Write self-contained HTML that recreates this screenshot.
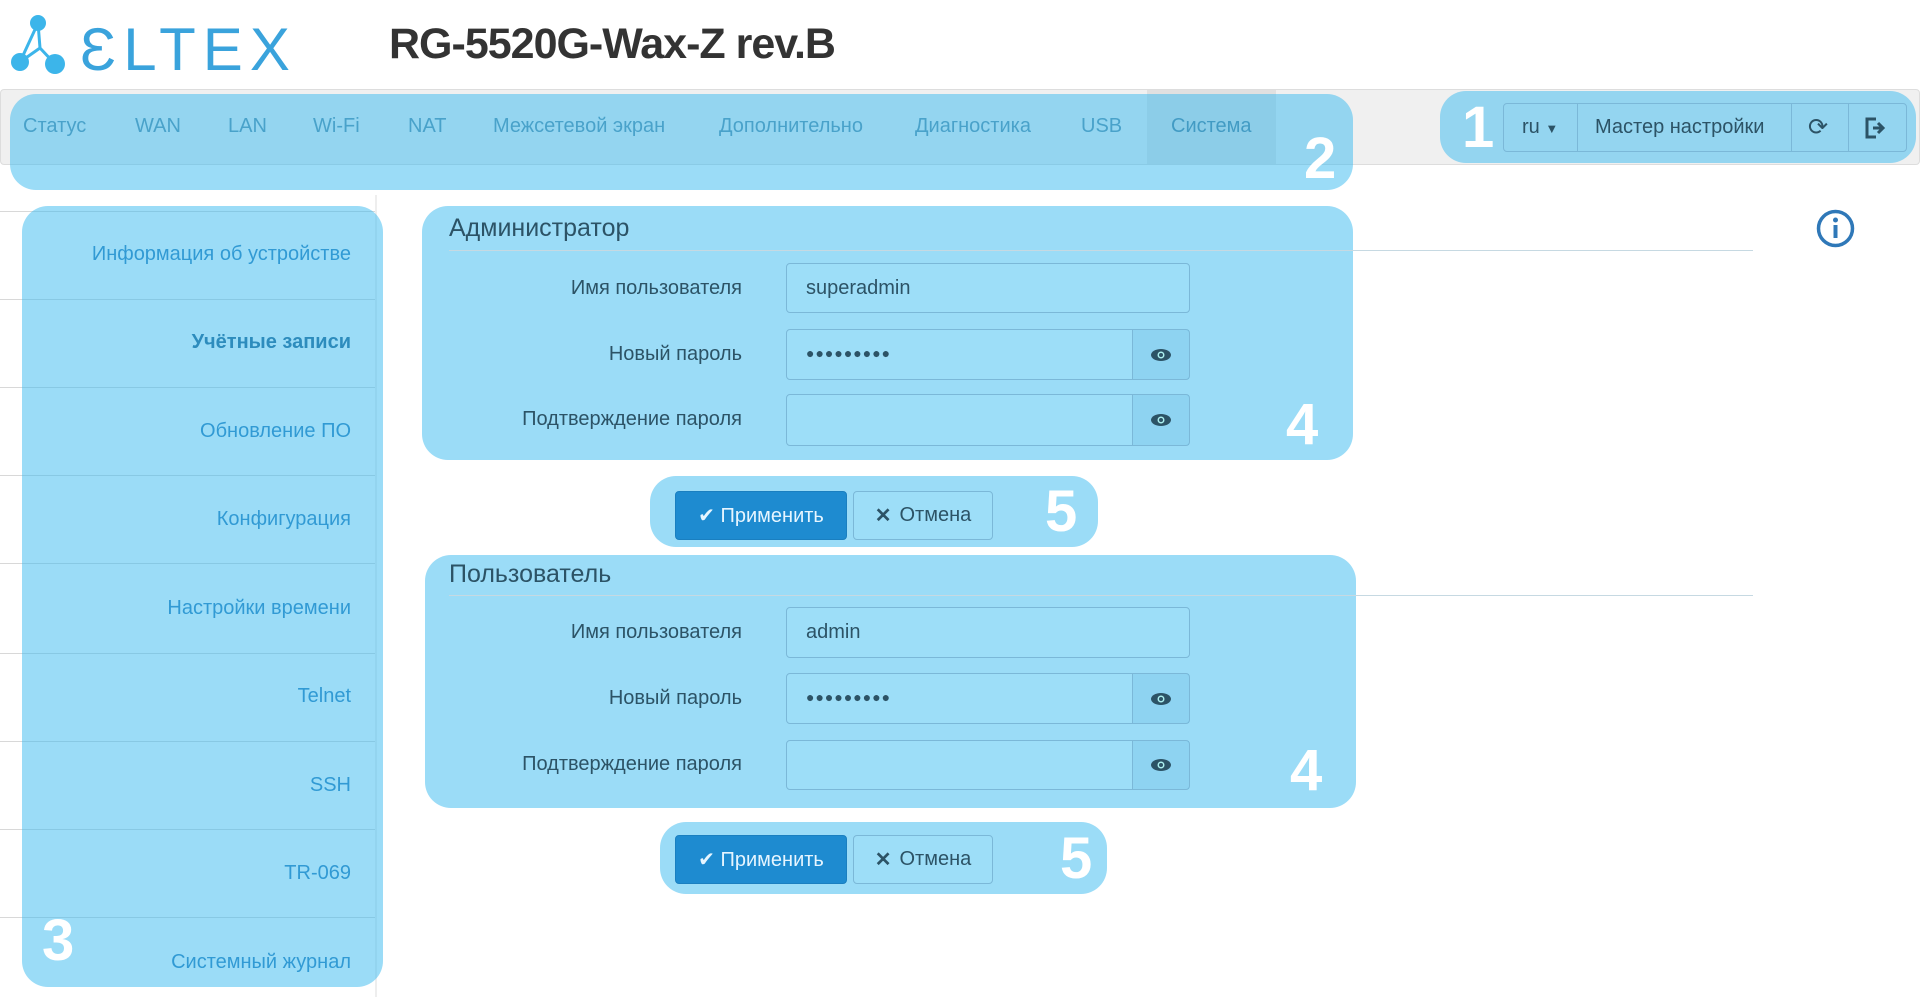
<!DOCTYPE html>
<html><head><meta charset="utf-8"><style>
*{margin:0;padding:0;box-sizing:border-box}
body{width:1920px;height:997px;position:relative;background:#fff;font-family:"Liberation Sans",sans-serif;overflow:hidden}
.a{position:absolute}
.hl{position:absolute;background:rgba(55,185,239,0.5);border-radius:26px}
.num{position:absolute;color:#fff;font-weight:bold;font-size:58px;line-height:1;font-family:"Liberation Sans",sans-serif}
.nav{position:absolute;top:115px;font-size:20px;color:#5a8aa5;white-space:nowrap}
.side{position:absolute;right:1569px;font-size:20px;color:#2a7ab8;white-space:nowrap;text-align:right}
.sep{position:absolute;left:0;width:375px;height:1px;background:#d8d8d8}
.lbl{position:absolute;right:1178px;font-size:20px;color:#2c5366;white-space:nowrap}
.inp{position:absolute;left:786px;width:404px;border:1px solid #7bb8d8;border-radius:4px;background:rgba(160,225,250,0.4);font-size:20px;color:#2c5366;padding-left:19px}
.eye{position:absolute;right:0;top:0;bottom:0;width:57px;border-left:1px solid #7bb8d8;background:rgba(100,180,220,0.25);display:flex;align-items:center;justify-content:center}
.btn{position:absolute;border-radius:4px;font-size:20px;display:flex;align-items:center;justify-content:center;white-space:nowrap}
.ap{background:#1e8bd0;color:#e6f5ff;border:1px solid #1a7fc0}
.cn{background:rgba(160,225,250,0.4);border:1px solid #7bb8d8;color:#2c5366}
.h{position:absolute;font-size:25px;color:#2c5366}
.ln{position:absolute;height:1px;background:#c6d9e2}
</style></head><body>

<!-- logo -->
<svg class="a" style="left:10px;top:14px" width="300" height="62" viewBox="0 0 300 62">
<circle cx="28" cy="9" r="8" fill="#3cb5ea"/><circle cx="10" cy="48" r="9" fill="#3cb5ea"/><circle cx="45" cy="50" r="10" fill="#3cb5ea"/>
<path d="M28 9 L10 48 M28 9 L30 34 L45 50 M10 48 L30 34" stroke="#3cb5ea" stroke-width="3" fill="none"/>
<text x="70" y="56" font-family="Liberation Sans" font-size="60" fill="#3aa3dc" letter-spacing="7">ƐLTEX</text>
</svg>
<div class="a" style="left:389px;top:20px;font-size:43px;font-weight:bold;color:#333;letter-spacing:-1px">RG-5520G-Wax-Z rev.B</div>

<!-- navbar -->
<div class="a" style="left:0;top:89px;width:1920px;height:76px;background:#f0f0f0;border:1px solid #ddd;border-radius:4px"></div>
<div class="a" style="left:1147px;top:90px;width:129px;height:74px;background:#e0e0e0"></div>
<div class="nav" style="left:23px">Статус</div>
<div class="nav" style="left:135px">WAN</div>
<div class="nav" style="left:228px">LAN</div>
<div class="nav" style="left:313px">Wi-Fi</div>
<div class="nav" style="left:408px">NAT</div>
<div class="nav" style="left:493px">Межсетевой экран</div>
<div class="nav" style="left:719px">Дополнительно</div>
<div class="nav" style="left:915px">Диагностика</div>
<div class="nav" style="left:1081px">USB</div>
<div class="nav" style="left:1171px;color:#4d7d98">Система</div>
<div class="hl" style="left:10px;top:94px;width:1343px;height:96px"></div>
<div class="num" style="left:1304px;top:130px">2</div>

<!-- right buttons -->
<div class="hl" style="left:1440px;top:91px;width:476px;height:72px"></div>
<div class="num" style="left:1462px;top:99px">1</div>
<div class="a" style="left:1503px;top:103px;width:404px;height:49px;border:1px solid #7bb8d8;border-radius:4px"></div>
<div class="a" style="left:1577px;top:103px;width:1px;height:49px;background:#7bb8d8"></div>
<div class="a" style="left:1791px;top:103px;width:1px;height:49px;background:#7bb8d8"></div>
<div class="a" style="left:1848px;top:103px;width:1px;height:49px;background:#7bb8d8"></div>
<div class="a" style="left:1522px;top:116px;font-size:20px;color:#2c5366">ru <span style="font-size:13px">▼</span></div>
<div class="a" style="left:1595px;top:116px;font-size:20px;color:#2c5366">Мастер настройки</div>
<div class="a" style="left:1808px;top:113px;font-size:24px;color:#2c5366">⟳</div>
<svg class="a" style="left:1864px;top:117px" width="24" height="22"><path d="M12 2H3v18h9" stroke="#2c5366" stroke-width="3" fill="none"/><path d="M9 11h8M14 6l5 5-5 5" stroke="#2c5366" stroke-width="3" fill="none"/></svg>

<!-- info icon -->
<svg class="a" style="left:1815px;top:208px" width="41" height="41"><circle cx="20.5" cy="20.5" r="17" stroke="#2f78b8" stroke-width="3.5" fill="none"/><circle cx="20.5" cy="12" r="2.5" fill="#2f78b8"/><rect x="18.5" y="17" width="4" height="13" fill="#2f78b8"/></svg>

<!-- sidebar -->
<div class="a" style="left:375px;top:195px;width:2px;height:802px;background:#eee"></div>
<div class="sep" style="top:211px"></div>
<div class="sep" style="top:299px"></div><div class="sep" style="top:387px"></div><div class="sep" style="top:475px"></div>
<div class="sep" style="top:563px"></div><div class="sep" style="top:653px"></div><div class="sep" style="top:741px"></div>
<div class="sep" style="top:829px"></div><div class="sep" style="top:917px"></div>
<div class="side" style="top:243px">Информация об устройстве</div>
<div class="side" style="top:331px;font-weight:bold;color:#235e8a">Учётные записи</div>
<div class="side" style="top:420px">Обновление ПО</div>
<div class="side" style="top:508px">Конфигурация</div>
<div class="side" style="top:597px">Настройки времени</div>
<div class="side" style="top:685px">Telnet</div>
<div class="side" style="top:774px">SSH</div>
<div class="side" style="top:862px">TR-069</div>
<div class="side" style="top:951px">Системный журнал</div>
<div class="hl" style="left:22px;top:206px;width:361px;height:781px"></div>
<div class="num" style="left:42px;top:912px">3</div>

<!-- admin -->
<div class="hl" style="left:422px;top:206px;width:931px;height:254px"></div>
<div class="h" style="left:449px;top:214px">Администратор</div>
<div class="ln" style="left:449px;top:250px;width:1304px"></div>
<div class="lbl" style="top:277px">Имя пользователя</div>
<div class="inp" style="top:263px;height:50px;line-height:48px">superadmin</div>
<div class="lbl" style="top:343px">Новый пароль</div>
<div class="inp" style="top:329px;height:51px;line-height:46px;font-size:14px;letter-spacing:1px">●●●●●●●●●<div class="eye"><svg width="22" height="14"><ellipse cx="11" cy="7" rx="10" ry="6" fill="#2c5366"/><circle cx="11" cy="7" r="3.5" fill="#aee"/><circle cx="11" cy="7" r="2" fill="#2c5366"/></svg></div></div>
<div class="lbl" style="top:408px">Подтверждение пароля</div>
<div class="inp" style="top:394px;height:52px"><div class="eye"><svg width="22" height="14"><ellipse cx="11" cy="7" rx="10" ry="6" fill="#2c5366"/><circle cx="11" cy="7" r="3.5" fill="#aee"/><circle cx="11" cy="7" r="2" fill="#2c5366"/></svg></div></div>
<div class="num" style="left:1286px;top:396px">4</div>

<div class="hl" style="left:650px;top:476px;width:448px;height:71px"></div>
<div class="btn ap" style="left:675px;top:491px;width:172px;height:49px">✔ Применить</div>
<div class="btn cn" style="left:853px;top:491px;width:140px;height:49px"><b style="margin-right:8px">✕</b>Отмена</div>
<div class="num" style="left:1045px;top:483px">5</div>

<!-- user -->
<div class="hl" style="left:425px;top:555px;width:931px;height:253px"></div>
<div class="h" style="left:449px;top:560px">Пользователь</div>
<div class="ln" style="left:449px;top:595px;width:1304px"></div>
<div class="lbl" style="top:621px">Имя пользователя</div>
<div class="inp" style="top:607px;height:51px;line-height:49px">admin</div>
<div class="lbl" style="top:687px">Новый пароль</div>
<div class="inp" style="top:673px;height:51px;line-height:46px;font-size:14px;letter-spacing:1px">●●●●●●●●●<div class="eye"><svg width="22" height="14"><ellipse cx="11" cy="7" rx="10" ry="6" fill="#2c5366"/><circle cx="11" cy="7" r="3.5" fill="#aee"/><circle cx="11" cy="7" r="2" fill="#2c5366"/></svg></div></div>
<div class="lbl" style="top:753px">Подтверждение пароля</div>
<div class="inp" style="top:740px;height:50px"><div class="eye"><svg width="22" height="14"><ellipse cx="11" cy="7" rx="10" ry="6" fill="#2c5366"/><circle cx="11" cy="7" r="3.5" fill="#aee"/><circle cx="11" cy="7" r="2" fill="#2c5366"/></svg></div></div>
<div class="num" style="left:1290px;top:742px">4</div>

<div class="hl" style="left:660px;top:822px;width:447px;height:72px"></div>
<div class="btn ap" style="left:675px;top:835px;width:172px;height:49px">✔ Применить</div>
<div class="btn cn" style="left:853px;top:835px;width:140px;height:49px"><b style="margin-right:8px">✕</b>Отмена</div>
<div class="num" style="left:1060px;top:830px">5</div>

</body></html>
